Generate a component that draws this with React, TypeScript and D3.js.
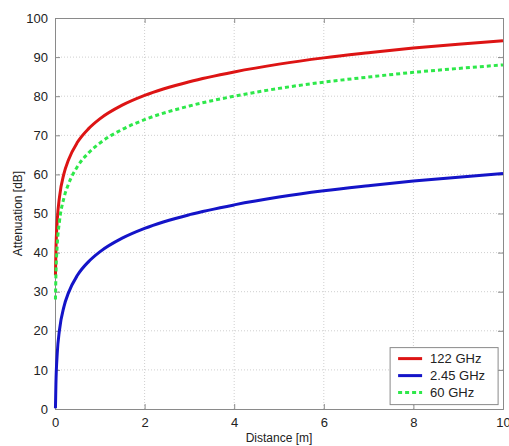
import * as d3 from "d3";
import React, { useRef, useEffect } from "react";

const distances = [0.01, 0.02, 0.05, 0.1, 0.2, 0.3, 0.5, 0.75, 1, 1.5, 2, 3, 4, 5, 6, 7, 8, 9, 10];
// attenuation [dB] per frequency
const att122 = [34.2, 40.2, 48.2, 54.2, 60.2, 63.7, 68.2, 71.7, 74.2, 77.7, 80.2, 83.7, 86.2, 88.2, 89.8, 91.1, 92.3, 93.3, 94.2];
const att245 = [0.2, 6.2, 14.2, 20.2, 26.2, 29.7, 34.2, 37.7, 40.2, 43.7, 46.2, 49.7, 52.2, 54.2, 55.8, 57.1, 58.3, 59.3, 60.2];
const att60 = [28.0, 34.0, 42.0, 48.0, 54.0, 57.5, 62.0, 65.5, 68.0, 71.5, 74.0, 77.5, 80.0, 82.0, 83.6, 84.9, 86.1, 87.1, 88.0];

const xTicks = [0, 2, 4, 6, 8, 10];
const yTicks = [0, 10, 20, 30, 40, 50, 60, 70, 80, 90, 100];

const series = [
  { name: "122 GHz", values: att122, color: "#dd1414", dash: null },
  { name: "2.45 GHz", values: att245, color: "#1414c8", dash: null },
  { name: "60 GHz", values: att60, color: "#2ee84a", dash: "4,3" },
];

const App = () => {
  const svgRef = useRef<SVGSVGElement>(null);

  useEffect(() => {
    const svg = d3.select(svgRef.current);
    svg.selectAll("*").remove();

    const W = 509;
    const H = 446;
    const margin = { top: 18, right: 6, bottom: 37, left: 55 };
    const width = W - margin.left - margin.right;
    const height = H - margin.top - margin.bottom;
    const font = "Liberation Sans, Arial, sans-serif";

    const x = d3.scaleLinear().domain([0, 10]).range([0, width]);
    const y = d3.scaleLinear().domain([0, 100]).range([height, 0]);

    const g = svg.append("g").attr("transform", `translate(${margin.left},${margin.top})`);

    // dotted grid
    g.append("g")
      .selectAll("line")
      .data(xTicks.slice(1, -1))
      .enter()
      .append("line")
      .attr("x1", (d) => x(d))
      .attr("x2", (d) => x(d))
      .attr("y1", 0)
      .attr("y2", height)
      .attr("stroke", "#cfcfcf")
      .attr("stroke-dasharray", "1,2");
    g.append("g")
      .selectAll("line")
      .data(yTicks.slice(1, -1))
      .enter()
      .append("line")
      .attr("x1", 0)
      .attr("x2", width)
      .attr("y1", (d) => y(d))
      .attr("y2", (d) => y(d))
      .attr("stroke", "#cfcfcf")
      .attr("stroke-dasharray", "1,2");

    // axes (ticks inward, matlab style)
    const xAxis = g
      .append("g")
      .attr("transform", `translate(0,${height})`)
      .call(d3.axisBottom(x).tickValues(xTicks).tickSize(-5).tickPadding(9).tickFormat(d3.format("d")));
    const yAxis = g
      .append("g")
      .call(d3.axisLeft(y).tickValues(yTicks).tickSize(-5).tickPadding(7).tickFormat(d3.format("d")));
    g.append("g").call(d3.axisTop(x).tickValues(xTicks).tickSize(-5).tickFormat(() => ""));
    g.append("g")
      .attr("transform", `translate(${width},0)`)
      .call(d3.axisRight(y).tickValues(yTicks).tickSize(-5).tickFormat(() => ""));

    g.selectAll(".domain").attr("stroke", "#8a8a8a");
    g.selectAll(".tick line").attr("stroke", "#8a8a8a");
    [xAxis, yAxis].forEach((a) =>
      a.selectAll("text").style("font-family", font).style("font-size", "13px").attr("fill", "#222")
    );

    // curves
    const line = d3
      .line<number>()
      .x((_, i) => x(distances[i]))
      .y((d) => y(d))
      .curve(d3.curveMonotoneX);

    series.forEach((s) => {
      g.append("path")
        .datum(s.values)
        .attr("d", line)
        .attr("fill", "none")
        .attr("stroke", s.color)
        .attr("stroke-width", 3)
        .attr("stroke-dasharray", s.dash);
    });

    // legend
    const lg = g.append("g").attr("transform", `translate(${x(7.48)},${y(15.7)})`);
    lg.append("rect")
      .attr("width", 108)
      .attr("height", 57)
      .attr("fill", "white")
      .attr("stroke", "#8a8a8a");
    series.forEach((s, i) => {
      const row = 11 + i * 17;
      lg.append("line")
        .attr("x1", 8)
        .attr("x2", 32)
        .attr("y1", row)
        .attr("y2", row)
        .attr("stroke", s.color)
        .attr("stroke-width", 3)
        .attr("stroke-dasharray", s.dash);
      lg.append("text")
        .attr("x", 40)
        .attr("y", row)
        .attr("dy", "0.35em")
        .text(s.name)
        .style("font-family", font)
        .style("font-size", "13px")
        .attr("fill", "#222");
    });

    // axis titles
    svg
      .append("text")
      .attr("x", margin.left + width / 2)
      .attr("y", 442)
      .attr("text-anchor", "middle")
      .text("Distance [m]")
      .style("font-family", font)
      .style("font-size", "12px")
      .attr("fill", "#222");
    svg
      .append("text")
      .attr("transform", `translate(22,${margin.top + height / 2}) rotate(-90)`)
      .attr("text-anchor", "middle")
      .text("Attenuation [dB]")
      .style("font-family", font)
      .style("font-size", "12px")
      .attr("fill", "#222");
  }, []);

  return (
    <div style={{ position: "absolute", left: 0, top: 0, width: 509, height: 446, background: "white" }}>
      <svg ref={svgRef} width={509} height={446} style={{ display: "block" }}></svg>
    </div>
  );
};

export default App;
